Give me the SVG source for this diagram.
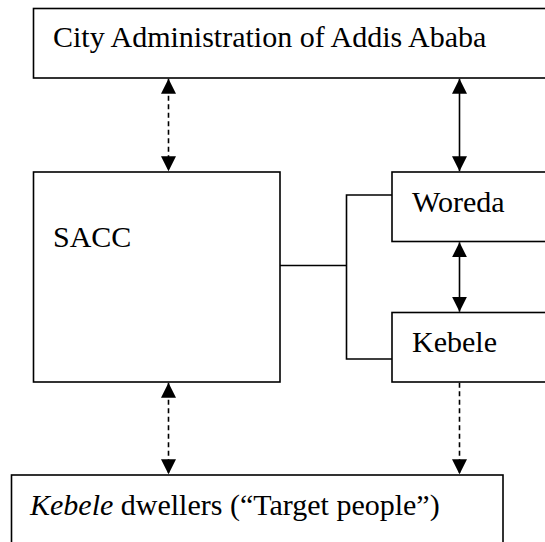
<svg xmlns="http://www.w3.org/2000/svg" width="545" height="542" viewBox="0 0 545 542">
<defs>
<marker id="ah" viewBox="0 0 15 15" markerWidth="15" markerHeight="15" refX="15" refY="7.5" orient="auto-start-reverse" markerUnits="userSpaceOnUse">
<path d="M0,0 L15,7.5 L0,15 Z" fill="#000"/>
</marker>
</defs>
<style>
.box{fill:#fff;stroke:#000;stroke-width:1.6}
.t{font-family:"Liberation Serif","Times New Roman",serif;font-size:30px;fill:#000}
.ln{fill:none;stroke:#000;stroke-width:1.6}
.dash{stroke-dasharray:5,3.5}
</style>
<rect width="545" height="542" fill="#fff"/>
<g id="city">
<rect class="box" x="33.5" y="8.5" width="520" height="69.5"/>
<text class="t" x="53" y="47">City Administration of Addis Ababa</text>
</g>
<g id="sacc">
<rect class="box" x="33.5" y="172" width="246.5" height="210"/>
<text class="t" x="53" y="247">SACC</text>
</g>
<g id="woreda">
<rect class="box" x="392" y="172" width="160" height="69.5"/>
<text class="t" x="412" y="211.5">Woreda</text>
</g>
<g id="kebele">
<rect class="box" x="392" y="312.5" width="160" height="69.5"/>
<text class="t" x="412" y="351.5">Kebele</text>
</g>
<g id="dwellers">
<rect class="box" x="11.5" y="475" width="491.5" height="80"/>
<text class="t" x="30" y="515"><tspan font-style="italic">Kebele</tspan> dwellers (“Target people”)</text>
</g>
<g id="connectors">
<line class="ln dash" x1="168.5" y1="78.8" x2="168.5" y2="171.2" marker-start="url(#ah)" marker-end="url(#ah)"/>
<line class="ln" x1="459.5" y1="78.8" x2="459.5" y2="171.2" marker-start="url(#ah)" marker-end="url(#ah)"/>
<line class="ln" x1="459.5" y1="242.3" x2="459.5" y2="311.7" marker-start="url(#ah)" marker-end="url(#ah)"/>
<line class="ln dash" x1="168.5" y1="382.8" x2="168.5" y2="474.2" marker-start="url(#ah)" marker-end="url(#ah)"/>
<line class="ln dash" x1="459.5" y1="382.8" x2="459.5" y2="474.2" marker-end="url(#ah)"/>
<polyline class="ln" points="280,265.5 346.5,265.5"/>
<polyline class="ln" points="392,195 346.5,195 346.5,359 392,359"/>
</g>
</svg>
